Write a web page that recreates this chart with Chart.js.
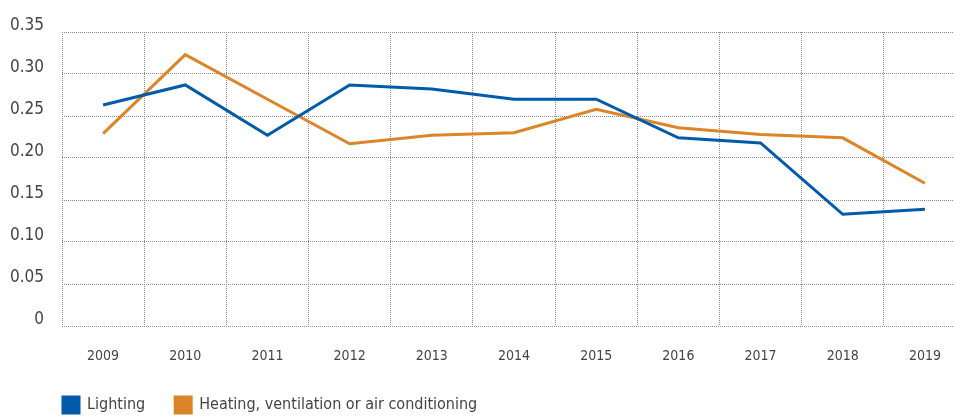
<!DOCTYPE html>
<html>
<head>
<meta charset="utf-8">
<script src="https://cdn.jsdelivr.net/npm/chart.js@4"></script>
<style>
  html, body { margin: 0; padding: 0; background: #fff; overflow: hidden; }
  #wrap { width: 966px; height: 419px; }
</style>
</head>
<body>
<div id="wrap"><canvas id="chart" width="966" height="419"></canvas></div>
<script>
// Data
const years = ['2009', '2010', '2011', '2012', '2013', '2014', '2015', '2016', '2017', '2018', '2019'];
const lighting = [0.263, 0.287, 0.227, 0.287, 0.282, 0.270, 0.270, 0.224, 0.218, 0.133, 0.139];
const heating = [0.229, 0.323, 0.270, 0.217, 0.227, 0.230, 0.258, 0.236, 0.228, 0.224, 0.170];
const yTicks = [0, 0.05, 0.10, 0.15, 0.20, 0.25, 0.30, 0.35];

const FONT = "'Liberation Sans Narrow', 'DejaVu Sans Condensed', sans-serif";
const gridStyle = { color: '#8c8c8c', lineWidth: 1, drawTicks: false };
const PLOT_BOTTOM = 326;
const LEGEND_Y = 407;   // centre line of the legend row
const LEGEND_X = 63;    // left edge of first legend box

// shift the legend to sit under the plot, like the original
const legendPlace = {
  id: 'legendPlace',
  afterLayout(chart) {
    const lg = chart.legend;
    const pad = lg.options.labels.padding;
    const w = lg.width, h = lg.height;
    lg.left = LEGEND_X - pad;
    lg.right = lg.left + w;
    lg.top = LEGEND_Y - pad - 10;
    lg.bottom = lg.top + h;
  }
};

new Chart(document.getElementById('chart').getContext('2d'), {
  type: 'line',
  data: {
    labels: years,
    datasets: [
      { label: 'Lighting', data: lighting, borderColor: '#005bab', backgroundColor: '#005bab', borderWidth: 3, pointRadius: 0, tension: 0 },
      { label: 'Heating, ventilation or air conditioning', data: heating, borderColor: '#dc8428', backgroundColor: '#dc8428', borderWidth: 3, pointRadius: 0, tension: 0 }
    ]
  },
  plugins: [legendPlace],
  options: {
    responsive: false,
    animation: false,
    layout: { padding: { top: 32, right: 0, left: 0, bottom: 0 } },
    plugins: {
      tooltip: { enabled: false },
      legend: {
        position: 'bottom',
        align: 'start',
        labels: {
          boxWidth: 16, boxHeight: 16, padding: 30,
          color: '#444', font: { family: FONT, size: 16 }
        }
      }
    },
    scales: {
      x: {
        offset: true,
        grid: Object.assign({ offset: true }, gridStyle),
        border: { display: false, dash: [1, 1] },
        ticks: { color: '#444', font: { family: FONT, size: 14 }, padding: 22, maxRotation: 0 },
        afterFit: s => { s.height = 419 - PLOT_BOTTOM - s.chart.legend.height; }
      },
      y: {
        min: 0, max: 0.35,
        afterBuildTicks: s => { s.ticks = yTicks.map(v => ({ value: v })); },
        grid: gridStyle,
        border: { display: false, dash: [1, 1] },
        ticks: {
          color: '#444', font: { family: FONT, size: 17 }, padding: 18, labelOffset: -6,
          callback: v => v === 0 ? '0' : v.toFixed(2)
        },
        afterFit: s => { s.width = 62; }
      }
    }
  }
});
</script>
</body>
</html>
